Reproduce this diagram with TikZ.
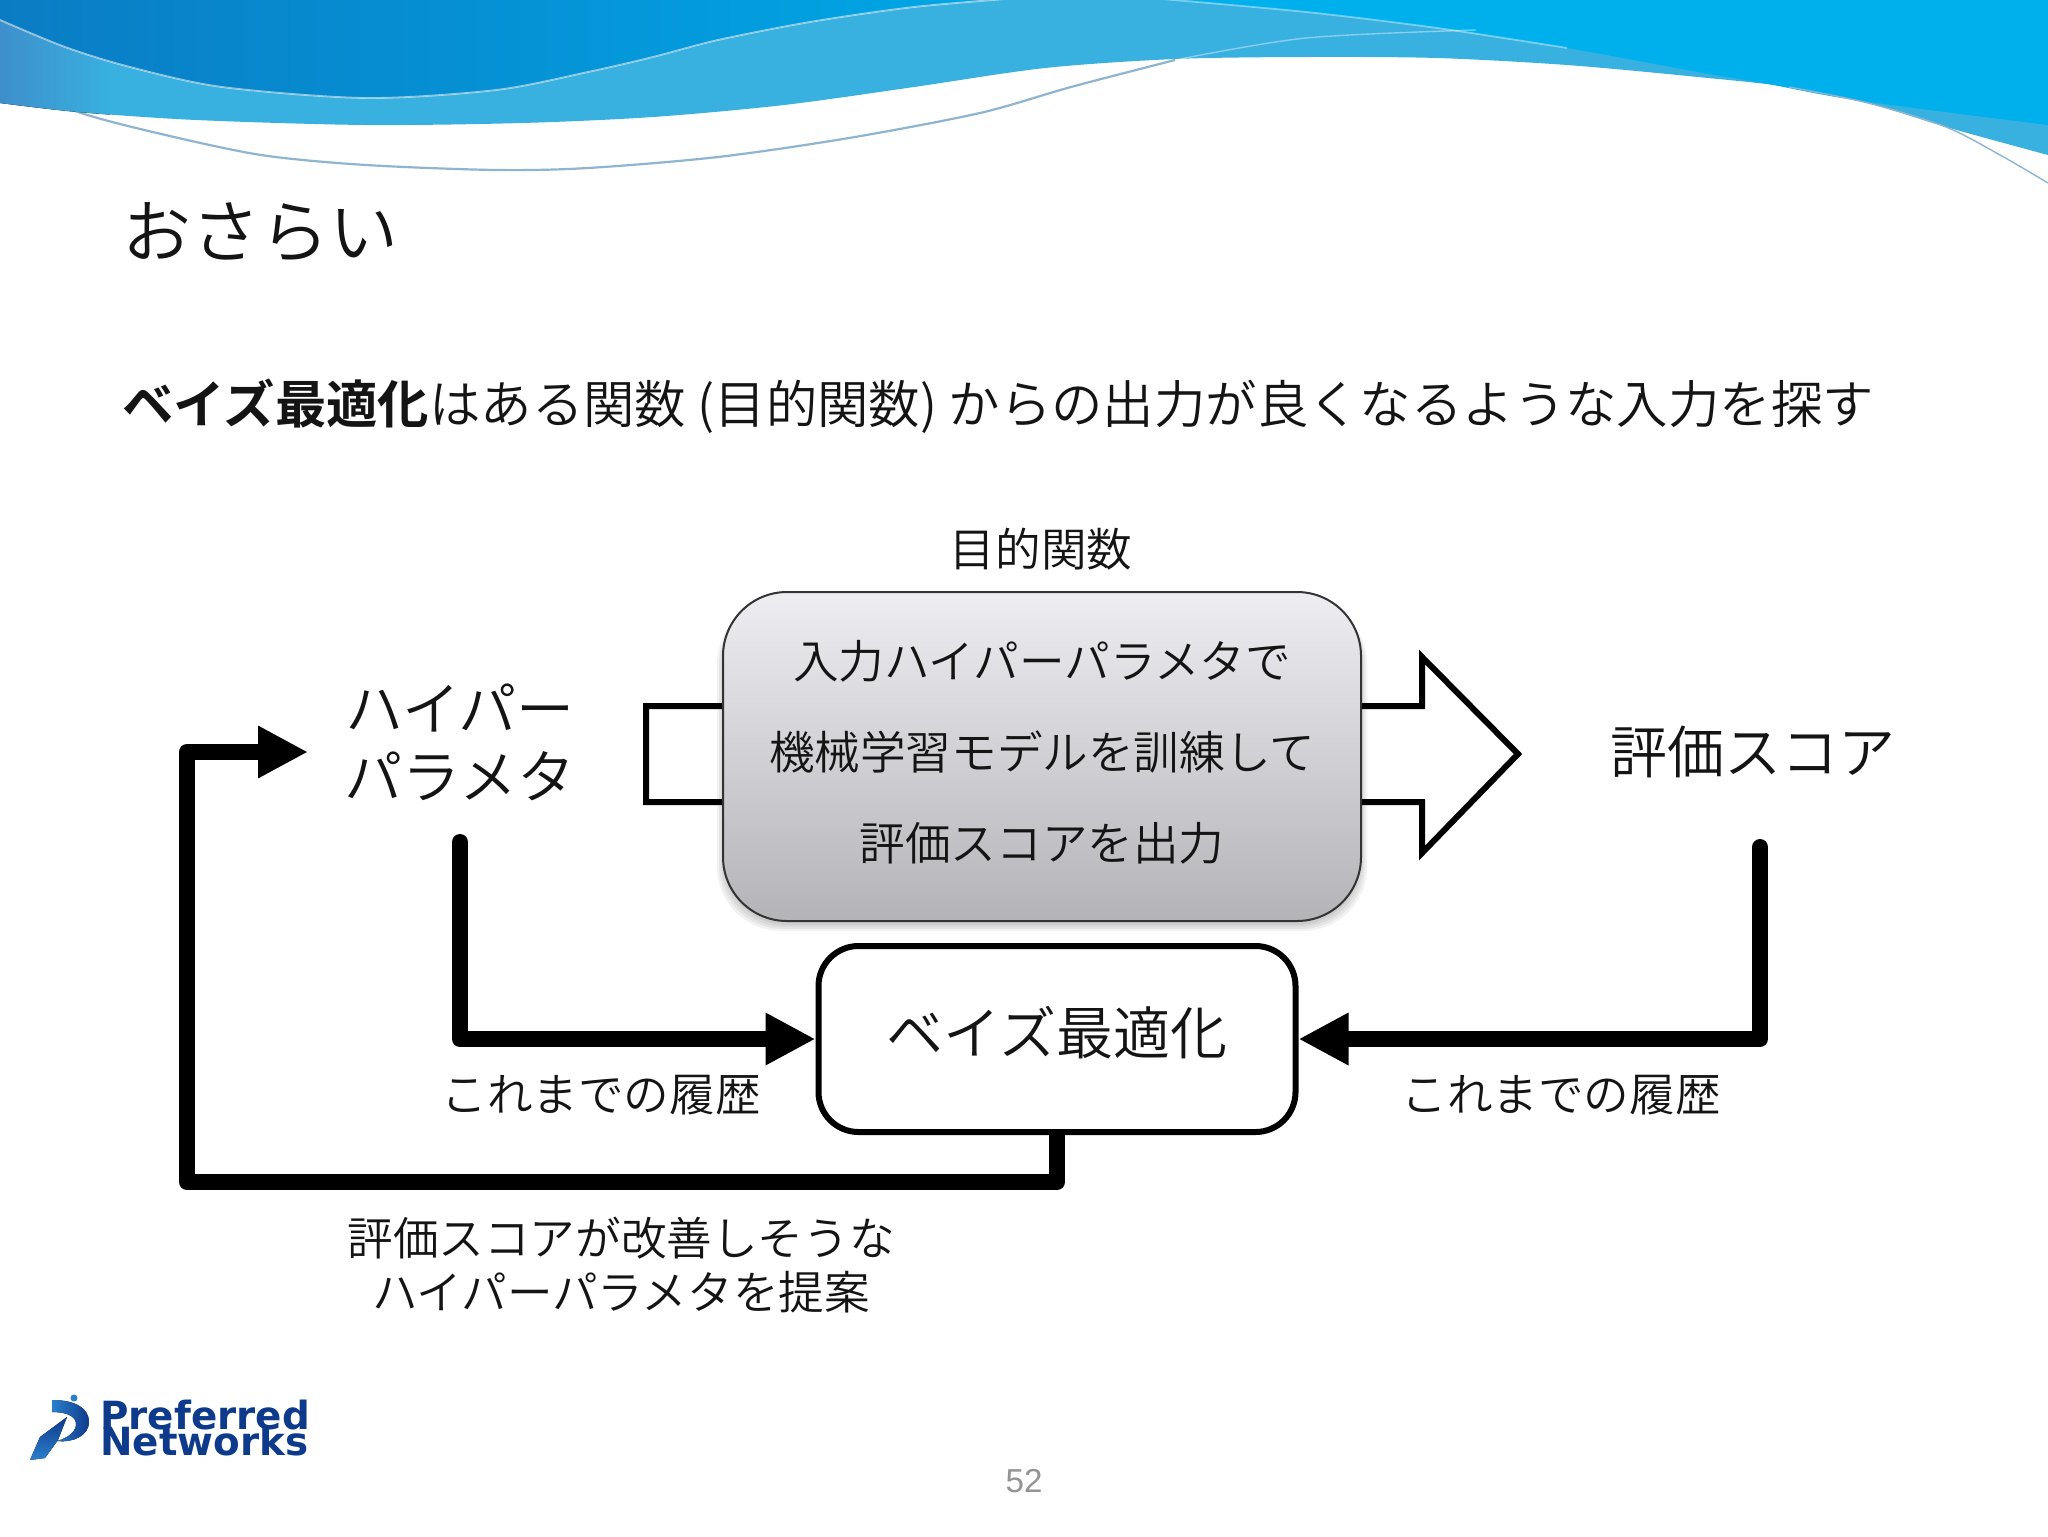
\documentclass[tikz,border=0pt]{standalone}
\usepackage{fontspec}
\usetikzlibrary{arrows.meta}
\newfontfamily\jp[UprightFont={* DemiLight},BoldFont={* Bold}]{Noto Sans CJK JP}
\newfontfamily\logofont{DejaVu Sans}
\setmainfont{Liberation Sans}
\definecolor{bandblue}{HTML}{38B0E0}
\definecolor{bandleft}{HTML}{3E8FCB}
\definecolor{deepblue}{HTML}{0A7CC4}
\definecolor{midblue}{HTML}{00A8E6}
\definecolor{rightblue}{HTML}{00B0EC}
\definecolor{linesteel}{HTML}{8FB4D0}
\definecolor{logoblue}{HTML}{0E3A8C}
\definecolor{logolight}{HTML}{2A80CC}
\definecolor{boxtop}{HTML}{EEEEF2}
\definecolor{boxbot}{HTML}{B4B4B8}
\tikzset{
  jptext/.style={font=\jp\fontsize{#1}{#1}\selectfont,inner sep=0pt,text=black!92},
  thickflow/.style={line width=8pt,line join=round,line cap=round,
    -{Triangle[length=25pt,width=24.5pt]}},
  wavehi/.style={white,opacity=.55,line width=.9pt},
  wavethin/.style={linesteel,line width=1.1pt},
}
\begin{document}
\begin{tikzpicture}[x=0.5pt,y=-0.5pt]
\useasboundingbox (0,0) rectangle (2048,1536);
\fill[white] (0,0) rectangle (2048,1536);
% header waves
\begin{scope}
\clip (0,0) rectangle (2048,1536);
\draw[wavethin] plot[smooth] coordinates {(0,80) (78,112) (157,133) (261,155) (366,165) (496,170) (588,168) (718,157) (849,138) (980,113) (1071,87) (1175,60)};
\fill[bandblue] (0,-2) -- plot[smooth] coordinates {(0,103) (78,112) (196,120) (366,125) (522,123) (653,117) (784,105) (914,87) (1045,68) (1175,59) (1306,57) (1437,58) (1567,65) (1698,77) (1789,87) (1868,103) (1946,127) (2048,155)} -- (2048,-2) -- cycle;
\begin{scope}
\clip (0,-2) -- plot[smooth] coordinates {(0,103) (78,112) (196,120) (366,125)} -- (366,-2) -- cycle;
\fill[left color=bandleft,right color=bandblue] (0,0) rectangle (110,130);
\end{scope}
\fill[left color=deepblue,right color=midblue] (0,-2) -- plot[smooth] coordinates {(0,20) (65,47) (130,67) (222,87) (366,98) (496,90) (588,72) (653,57) (718,40) (810,22) (914,7) (1019,-2)} -- cycle;
\fill[rightblue] (1162,-2) -- plot[smooth] coordinates {(1162,-1) (1306,12) (1437,28) (1567,48) (1698,72) (1763,83) (1855,100) (2048,125)} -- (2048,-2) -- cycle;
\draw[wavehi] plot[smooth] coordinates {(0,20) (65,47) (130,67) (222,87) (366,98) (496,90) (588,72) (653,57) (718,40) (810,22) (914,7) (1019,-2)};
\draw[wavehi,opacity=.4] plot[smooth] coordinates {(1162,-1) (1306,12) (1437,28) (1567,48)};
\draw[white,opacity=.4,line width=.7pt] plot[smooth] coordinates {(1175,60) (1306,38) (1476,30)};
\draw[wavethin,line width=.7pt] plot[smooth] coordinates {(1789,87) (1868,103) (1946,127) (2000,155) (2048,183)};
\end{scope}
% titles
\node[jptext=34.5,anchor=west] (title) at (122,232) {おさらい};
\node[jptext=25.7,anchor=west] (sub) at (122,406) {{\bfseries ベイズ最適化}はある関数 (目的関数) からの出力が良くなるような入力を探す};
\node[jptext=22.8] (objlab) at (1041,549) {目的関数};
% block arrow behind the box
\draw[line width=3pt,miter limit=10,fill=white] (1000,706) -- (646,706) -- (646,802) -- (1000,802) -- (1422,802) -- (1422,853) -- (1518,754) -- (1422,657) -- (1422,706) -- cycle;
% shadow
\foreach \g in {0,2,4,6}
  \fill[black,opacity=.05,rounded corners=32pt] (723-\g,600) rectangle (1361+\g,925+\g);
% boxes
\node[rounded corners=32pt,draw=black!80,line width=1pt,top color=boxtop,bottom color=boxbot,
  minimum width=319pt,minimum height=164.5pt,inner sep=0pt,
  font=\jp\fontsize{22.8}{45.5}\selectfont,text=black!92] (model) at (1042,756.5)
  {\raisebox{2.6pt}[\height][\depth]{\begin{tabular}{@{}c@{}}入力ハイパーパラメタで\\機械学習モデルを訓練して\\評価スコアを出力\end{tabular}}};
\node[rounded corners=20pt,draw=black,line width=3pt,fill=white,minimum width=238.5pt,minimum height=93pt,
  inner sep=0pt,font=\jp\fontsize{28.5}{28.5}\selectfont,text=black!92] (opt) at (1057,1039)
  {\raisebox{3.3pt}[\height][\depth]{ベイズ最適化}};
\node[minimum width=152pt,minimum height=90pt,inner sep=0pt,outer sep=0pt,
  font=\jp\fontsize{29}{34}\selectfont,text=black!92] (hp) at (460,752)
  {\raisebox{0.4pt}[\height][\depth]{\begin{tabular}{@{}c@{}}ハイパー\\パラメタ\end{tabular}}};
\node[minimum width=120pt,minimum height=95pt,inner sep=0pt,outer sep=0pt,
  font=\jp\fontsize{28.5}{28.5}\selectfont,text=black!92] (score) at (1753,752) {評価スコア};
% flow connectors
\coordinate (retcorner) at (187,1182);
\draw[thickflow] (hp.south) |- (opt.west);
\draw[thickflow] ([xshift=3.5pt]score.south) |- (opt.east);
\draw[thickflow,line cap=butt] (opt.south) |- (retcorner) |- (hp.west);
% labels
\node[jptext=22.8] (histl) at (601,1095) {これまでの履歴};
\node[jptext=22.8] (histr) at (1561,1095) {これまでの履歴};
\node[jptext=22.8] (prop1) at (621,1238) {評価スコアが改善しそうな};
\node[jptext=22.8] (prop2) at (621,1292) {ハイパーパラメタを提案};
% logo
\fill[logolight] (74,1398) circle (3.5);
\fill[left color=logolight,right color=logoblue] (52,1400) .. controls (75,1400) and (89,1408) .. (89,1422) .. controls (89,1436) and (72,1443) .. (57,1441) .. controls (68,1438) and (77,1431) .. (76,1423) .. controls (75,1415) and (64,1412) .. (52,1412) -- cycle;
\fill[top color=logoblue,bottom color=logolight] (67,1417) -- (58,1440) -- (45,1458) -- (30,1460) -- (40,1437) -- cycle;
\node[font=\logofont\bfseries\fontsize{19.4}{19.4}\selectfont,text=logoblue,inner sep=0pt,anchor=base west] (pref) at (100,1429) {Preferred};
\node[font=\logofont\bfseries\fontsize{19.4}{19.4}\selectfont,text=logoblue,inner sep=0pt,anchor=base west] (netw) at (100,1455) {Networks};
% page number
\node[font=\fontsize{16.6}{16.6}\selectfont,text=black!42,inner sep=0pt] (page) at (1024,1481) {52};
\end{tikzpicture}
\end{document}
